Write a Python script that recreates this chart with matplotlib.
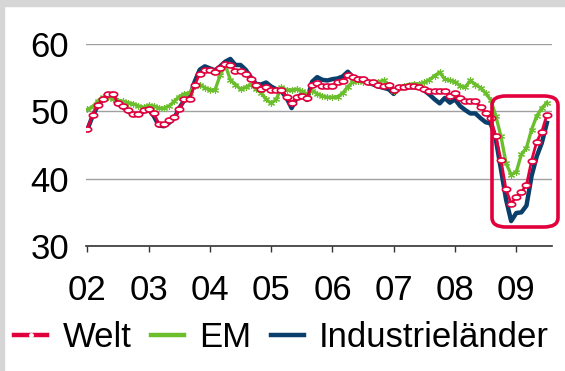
import numpy as np
import matplotlib
matplotlib.use("Agg")
import matplotlib.pyplot as plt
from matplotlib.path import Path
from matplotlib.patches import FancyBboxPatch, Rectangle
from matplotlib.lines import Line2D

plt.rcParams["font.family"] = ["Liberation Sans", "DejaVu Sans"]

# monthly PMI, Jan 2002 .. Jul 2009
welt = [47.4, 49.5, 51.0, 51.8, 52.6, 52.6, 51.2, 50.8, 50.2, 49.6, 49.6, 50.2,
        50.4, 49.7, 48.1, 48.1, 48.7, 49.2, 50.3, 51.8, 51.9, 53.9, 55.6, 56.2,
        56.2, 55.8, 56.5, 57.0, 56.9, 56.0, 56.0, 55.5, 54.8, 53.9, 53.4, 53.6,
        53.2, 53.2, 53.2, 52.1, 51.3, 52.1, 52.3, 52.0, 53.9, 54.2, 53.8, 53.8,
        53.8, 54.3, 54.5, 55.4, 55.1, 54.8, 54.8, 54.4, 54.3, 54.0, 53.8, 53.9,
        53.2, 53.6, 53.6, 53.8, 53.8, 53.6, 53.3, 53.1, 53.0, 53.0, 53.1, 52.3,
        52.8, 52.0, 51.5, 51.5, 51.5, 50.6, 49.8, 49.0, 46.3, 42.8, 38.4, 36.3,
        37.3, 38.0, 39.1, 42.7, 45.5, 47.0, 49.5]
em = [50.3, 50.7, 51.5, 52.1, 52.2, 51.8, 51.6, 51.5, 51.3, 51.1, 50.8, 50.6,
      50.9, 50.8, 50.5, 50.5, 50.8, 51.5, 52.2, 52.6, 52.8, 53.8, 54.0, 53.5,
      53.2, 53.2, 55.4, 56.9, 54.7, 54.0, 53.3, 53.6, 54.0, 53.3, 52.8, 51.8,
      51.2, 51.8, 53.6, 53.2, 53.2, 53.3, 53.0, 52.6, 53.1, 52.6, 52.3, 52.1,
      52.1, 52.2, 52.7, 53.7, 54.4, 54.5, 54.4, 54.3, 54.4, 54.4, 54.6, 54.0,
      53.0, 53.5, 53.8, 54.0, 54.1, 54.1, 54.3, 54.7, 55.3, 55.8, 54.8, 54.6,
      54.4, 53.8, 53.6, 54.6, 54.0, 53.5, 52.7, 51.7, 49.3, 46.3, 42.3, 40.6,
      41.0, 43.6, 44.6, 47.3, 49.3, 50.5, 51.3]
ind = [47.3, 49.3, 50.8, 51.8, 52.5, 52.6, 51.1, 50.6, 50.0, 49.5, 49.5, 50.0,
       50.3, 49.3, 47.9, 47.8, 48.3, 49.0, 50.5, 51.7, 52.1, 54.4, 56.2, 56.7,
       56.4, 56.1, 56.7, 57.4, 57.8, 56.9, 56.9, 56.2, 55.1, 54.1, 54.0, 54.3,
       53.7, 53.3, 53.0, 52.0, 50.5, 52.0, 52.6, 51.7, 54.4, 55.1, 54.7, 54.6,
       54.8, 54.9, 55.2, 55.9, 55.1, 54.9, 54.8, 54.3, 54.0, 53.7, 53.5, 53.3,
       52.6, 53.6, 53.5, 53.6, 53.6, 53.6, 53.1, 52.5, 51.8, 51.2, 52.0, 51.3,
       51.8, 50.8, 50.2, 49.7, 49.7, 49.0, 48.4, 48.2, 45.8, 41.4, 36.9, 33.7,
       34.9, 35.0, 36.0, 40.4, 43.3, 45.3, 48.3]
year_labels = ["02", "03", "04", "05", "06", "07", "08", "09"]

RED = "#e2003c"
GREEN = "#6cbf2c"
BLUE = "#0b3f6b"

fig = plt.figure(figsize=(5.65, 3.71), dpi=100)
fig.patches.append(Rectangle((0, 0.985), 1, 0.015, transform=fig.transFigure,
                             color="#d6d6d6", zorder=0))
fig.patches.append(Rectangle((0, 0), 0.007, 1, transform=fig.transFigure,
                             color="#d6d6d6", zorder=0))
ax = fig.add_axes([0.152, 0.337, 0.825, 0.544])

x = np.arange(len(welt))
t = np.linspace(0, 2 * np.pi, 40)
oval = Path(np.column_stack([np.cos(t), 0.6 * np.sin(t)]))

ax.plot(x, ind, color=BLUE, lw=3.2, zorder=3)
ax.plot(x, em, color=GREEN, lw=2.4, marker=(6, 2, 0), ms=5, mew=0.8, zorder=4)
ax.plot(x, welt, color=RED, lw=2.0, marker=oval, ms=6, mfc="white",
        mec=RED, mew=1.2, zorder=5)

ax.set_xlim(-0.3, 91)
ax.set_ylim(30, 60)
ax.set_yticks([30, 40, 50, 60])
ax.set_xticks(np.arange(0, 96, 12))
ax.set_xticklabels(year_labels)
ax.yaxis.grid(True, color="#a0a0a0", lw=1)
ax.set_axisbelow(True)
for s in ["top", "right", "left"]:
    ax.spines[s].set_visible(False)
ax.spines["bottom"].set_color("#333333")
ax.spines["bottom"].set_linewidth(1.2)
ax.tick_params(axis="y", length=0, pad=12, labelsize=25)
ax.tick_params(axis="x", length=4, width=1, color="#333333", pad=16, labelsize=25)

# highlight box around the 2008/09 slump
box = FancyBboxPatch((492 / 565, 1 - 227 / 371), 66 / 565, 131 / 371,
                     boxstyle="round,pad=0,rounding_size=0.025",
                     transform=fig.transFigure, fill=False, ec=RED, lw=2.6,
                     zorder=10)
fig.patches.append(box)

handles = [
    Line2D([], [], color=RED, lw=3.2, marker="o", ms=2.5, mfc="white", mec="white"),
    Line2D([], [], color=GREEN, lw=3.2),
    Line2D([], [], color=BLUE, lw=3.2),
]
fig.legend(handles, ["Welt", "EM", "Industrieländer"], loc="center left",
           bbox_to_anchor=(0.025, 0.09), ncol=3, frameon=False, fontsize=25,
           handlelength=0.95, handletextpad=0.45, columnspacing=0.55,
           borderaxespad=0, borderpad=0)

fig.savefig("out.png", dpi=100)
